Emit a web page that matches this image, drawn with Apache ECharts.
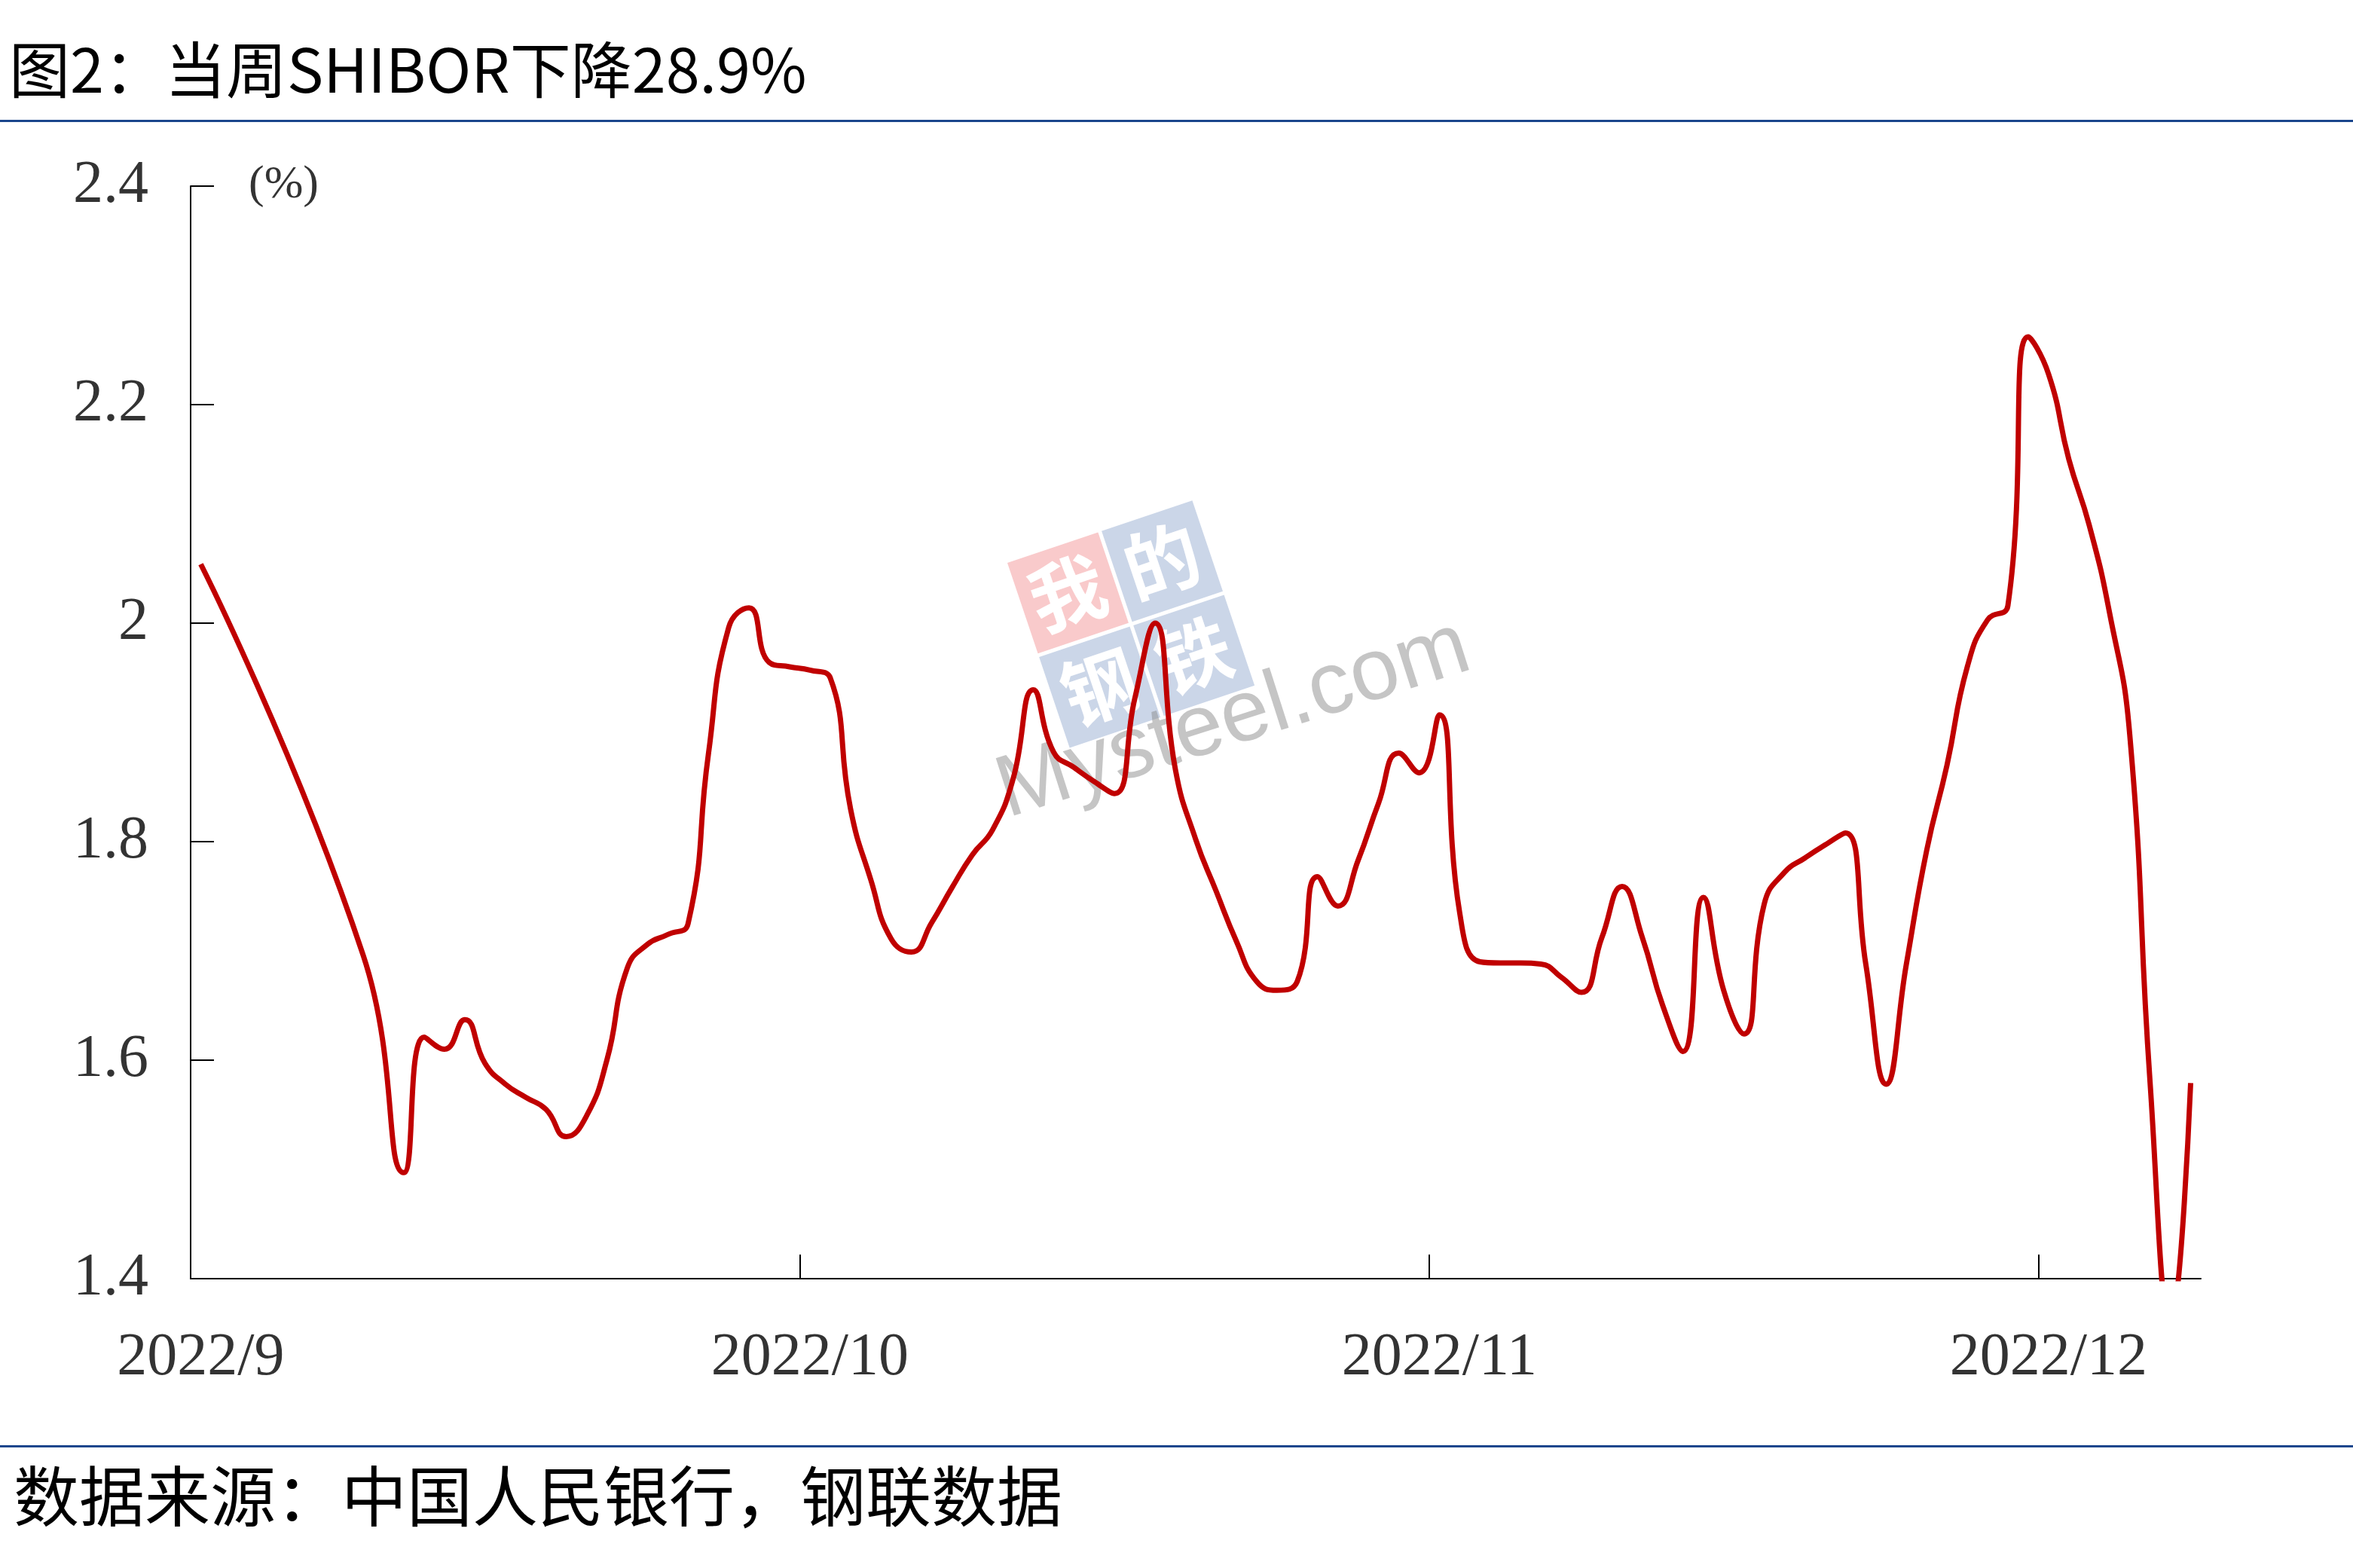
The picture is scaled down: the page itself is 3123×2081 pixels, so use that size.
<!DOCTYPE html>
<html>
<head>
<meta charset="utf-8">
<title>图2：当周SHIBOR下降28.9%</title>
<script src="https://cdn.jsdelivr.net/npm/echarts@6/dist/echarts.min.js"></script>
<style>
    html, body { margin: 0; padding: 0; background: #fff; }
    #chart { width: 3123px; height: 2081px; }
</style>
</head>
<body>
<div id="chart"></div>
<script>
// 日期（2022年）与 SHIBOR 数值（%）
const dates = [
    '2022-09-01', '2022-09-09', '2022-09-11', '2022-09-12', '2022-09-13', '2022-09-14',
    '2022-09-15', '2022-09-16', '2022-09-17', '2022-09-18', '2022-09-19', '2022-09-20',
    '2022-09-21', '2022-09-22', '2022-09-23', '2022-09-24', '2022-09-25', '2022-09-26',
    '2022-09-27', '2022-09-28', '2022-09-29', '2022-09-30', '2022-10-01', '2022-10-02',
    '2022-10-03', '2022-10-04', '2022-10-05', '2022-10-06', '2022-10-07', '2022-10-08',
    '2022-10-09', '2022-10-10', '2022-10-11', '2022-10-12', '2022-10-13', '2022-10-14',
    '2022-10-15', '2022-10-16', '2022-10-17', '2022-10-18', '2022-10-19', '2022-10-20',
    '2022-10-21', '2022-10-22', '2022-10-23', '2022-10-24', '2022-10-25', '2022-10-26',
    '2022-10-27', '2022-10-28', '2022-10-29', '2022-10-30', '2022-10-31', '2022-11-01',
    '2022-11-02', '2022-11-03', '2022-11-04', '2022-11-05', '2022-11-06', '2022-11-07',
    '2022-11-08', '2022-11-09', '2022-11-10', '2022-11-11', '2022-11-12', '2022-11-13',
    '2022-11-14', '2022-11-15', '2022-11-16', '2022-11-17', '2022-11-18', '2022-11-19',
    '2022-11-20', '2022-11-21', '2022-11-22', '2022-11-23', '2022-11-24', '2022-11-25',
    '2022-11-26', '2022-11-27', '2022-11-28', '2022-11-29', '2022-11-30', '2022-12-01',
    '2022-12-02', '2022-12-03', '2022-12-04', '2022-12-05', '2022-12-06', '2022-12-07',
    '2022-12-08'
];
const shibor = [
    2.054, 1.696, 1.497, 1.621, 1.610, 1.637,
    1.597, 1.578, 1.566, 1.555, 1.530, 1.549,
    1.600, 1.684, 1.706, 1.715, 1.725, 1.880,
    1.996, 2.014, 1.964, 1.960, 1.957, 1.950,
    1.830, 1.765, 1.711, 1.699, 1.726, 1.758,
    1.788, 1.811, 1.857, 1.939, 1.882, 1.868,
    1.855, 1.844, 1.931, 2.000, 1.866, 1.802,
    1.755, 1.709, 1.672, 1.664, 1.672, 1.768,
    1.741, 1.783, 1.835, 1.881, 1.863, 1.916,
    1.735, 1.690, 1.689, 1.689, 1.688, 1.676,
    1.662, 1.712, 1.759, 1.712, 1.650, 1.608,
    1.749, 1.664, 1.624, 1.743, 1.772, 1.785,
    1.797, 1.808, 1.688, 1.578, 1.688, 1.792,
    1.870, 1.960, 2.003, 2.016, 2.262, 2.228,
    2.150, 2.090, 2.010, 1.898, 1.580, 1.360,
    1.579
];
const monthStarts = ['2022-09-01', '2022-10-01', '2022-11-01', '2022-12-01'];
const monthLabels = ['2022/9', '2022/10', '2022/11', '2022/12'];
const axisStart = '2022-09-01';
const axisEnd = '2022-12-09';

// 日期 -> 距起始日的天数（每天的数据画在当天正中）
function dayIndex(s) {
    const p = s.split('-');
    const q = axisStart.split('-');
    const t = Date.UTC(+p[0], +p[1] - 1, +p[2]);
    const t0 = Date.UTC(+q[0], +q[1] - 1, +q[2]);
    return Math.round((t - t0) / 86400000);
}

const tickDays = monthStarts.map(dayIndex);
const labelDays = tickDays.map(d => d + 0.5);

const myChart = echarts.init(document.getElementById('chart'));

const option = {
    backgroundColor: '#fff',
    animation: false,
    grid: {
        left: 253,
        right: 202,
        top: 247,
        bottom: 384
    },
    xAxis: {
        type: 'value',
        min: 0,
        max: dayIndex(axisEnd),
        axisLine: { show: true, lineStyle: { color: '#000', width: 2 } },
        axisTick: {
            show: true,
            inside: true,
            length: 32,
            lineStyle: { color: '#000', width: 2 },
            customValues: tickDays
        },
        axisLabel: {
            customValues: labelDays,
            formatter: function (value) {
                const i = labelDays.indexOf(value);
                return i >= 0 ? monthLabels[i] : '';
            },
            fontFamily: 'Liberation Serif',
            fontSize: 80,
            color: '#333',
            margin: 66
        },
        splitLine: { show: false }
    },
    yAxis: {
        type: 'value',
        min: 1.4,
        max: 2.4,
        interval: 0.2,
        axisLine: { show: true, lineStyle: { color: '#000', width: 2 } },
        axisTick: {
            show: true,
            inside: true,
            length: 31,
            lineStyle: { color: '#000', width: 2 }
        },
        axisLabel: {
            formatter: v => String(+v.toFixed(1)),
            fontFamily: 'Liberation Serif',
            fontSize: 80,
            color: '#333',
            margin: 56,
            padding: [12, 0, 0, 0]
        },
        splitLine: { show: false }
    },
    series: [
        {
            name: 'SHIBOR',
            type: 'line',
            smooth: true,
            showSymbol: false,
            z: 3,
            lineStyle: { color: '#C00000', width: 7 },
            data: dates.map((d, i) => [dayIndex(d) + 0.5, shibor[i]])
        }
    ],
    graphic: [
        // 标题
        {
            type: 'text',
            x: 12,
            y: 92,
            style: {
                text: '图2：当周SHIBOR下降28.9%',
                fontFamily: 'Noto Sans CJK SC',
                fontSize: 81,
                fill: '#000',
                verticalAlign: 'middle'
            }
        },
        { type: 'rect', shape: { x: 0, y: 159, width: 3123, height: 3 }, style: { fill: '#1A468C' } },
        { type: 'rect', shape: { x: 0, y: 1918, width: 3123, height: 3 }, style: { fill: '#1A468C' } },
        // 数据来源
        {
            type: 'text',
            x: 18,
            y: 1986,
            style: {
                text: '数据来源：中国人民银行，钢联数据',
                fontFamily: 'Noto Sans CJK SC',
                fontSize: 87,
                fill: '#000',
                verticalAlign: 'middle'
            }
        },
        // 单位
        {
            type: 'text',
            x: 330,
            y: 246,
            style: {
                text: '(%)',
                fontFamily: 'Liberation Serif',
                fontSize: 62,
                fill: '#333',
                verticalAlign: 'middle'
            }
        },
        // 水印
        {
            type: 'group',
            x: 1337,
            y: 747,
            rotation: 0.325,
            z: 1,
            children: [
                { type: 'rect', shape: { x: 0, y: 0, width: 127, height: 127 }, style: { fill: '#F9CACB' } },
                { type: 'rect', shape: { x: 132, y: 0, width: 127, height: 127 }, style: { fill: '#CBD6E8' } },
                { type: 'rect', shape: { x: 0, y: 132, width: 127, height: 127 }, style: { fill: '#CBD6E8' } },
                { type: 'rect', shape: { x: 132, y: 132, width: 127, height: 127 }, style: { fill: '#CBD6E8' } },
                { type: 'text', x: 63, y: 63, style: { text: '我', fontFamily: 'Noto Sans CJK SC', fontWeight: 'bold', fontSize: 100, fill: '#fff', align: 'center', verticalAlign: 'middle' } },
                { type: 'text', x: 195, y: 63, style: { text: '的', fontFamily: 'Noto Sans CJK SC', fontWeight: 'bold', fontSize: 100, fill: '#fff', align: 'center', verticalAlign: 'middle' } },
                { type: 'text', x: 63, y: 195, style: { text: '钢', fontFamily: 'Noto Sans CJK SC', fontWeight: 'bold', fontSize: 100, fill: '#fff', align: 'center', verticalAlign: 'middle' } },
                { type: 'text', x: 195, y: 195, style: { text: '铁', fontFamily: 'Noto Sans CJK SC', fontWeight: 'bold', fontSize: 100, fill: '#fff', align: 'center', verticalAlign: 'middle' } }
            ]
        },
        {
            type: 'group',
            x: 1345,
            y: 1110,
            rotation: 0.31,
            z: 1,
            children: [
                {
                    type: 'text',
                    x: 0,
                    y: 0,
                    style: {
                        text: 'Mysteel.com',
                        fontFamily: 'Liberation Sans',
                        fontSize: 116,
                        fill: 'rgba(140,140,140,0.5)',
                        verticalAlign: 'bottom'
                    }
                }
            ]
        }
    ]
};

myChart.setOption(option);

window.addEventListener('resize', function () {
    myChart.resize();
});
</script>
</body>
</html>
